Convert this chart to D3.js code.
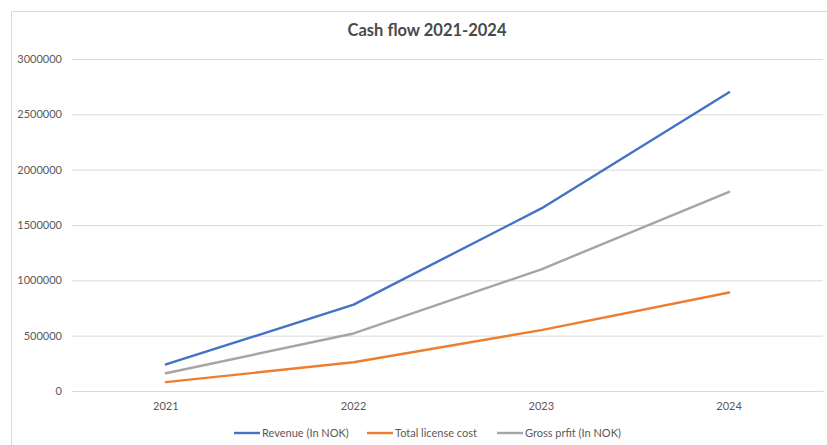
<!DOCTYPE html>
<html>
<head>
<meta charset="utf-8">
<script src="https://cdn.jsdelivr.net/npm/d3@7"></script>
<style>
  html, body { margin: 0; padding: 0; background: #fff; }
  svg { display: block; }
</style>
</head>
<body>
<svg id="chart" width="827" height="445"></svg>
<script>
const title = "Cash flow 2021-2024";
const categories = ["2021", "2022", "2023", "2024"];
const seriesNames = ["Revenue (In NOK)", "Total license cost", "Gross prfit (In NOK)"];
const revenue = [240000, 780000, 1650000, 2700000];
const licenseCost = [80000, 260000, 550000, 890000];
const grossProfit = [160000, 520000, 1100000, 1800000];
const yTicks = [0, 500000, 1000000, 1500000, 2000000, 2500000, 3000000];
const colors = ["#4472C4", "#ED7D31", "#A5A5A5"];

(function () {
const series = [revenue, licenseCost, grossProfit].map((vals, i) => ({
  name: seriesNames[i], color: colors[i],
  points: categories.map((c, j) => ({ c, v: vals[j] }))
}));

const svg = d3.select("#chart");
const font = "Lato, 'Open Sans', sans-serif";

// chart border
svg.append("path")
  .attr("d", "M11.5,445 V11.5 H827")
  .attr("fill", "none").attr("stroke", "#d9d9d9").attr("stroke-width", 1);

const mLeft = 72, mRight = 823, mTop = 59, mBottom = 391;
const x = d3.scaleBand().domain(categories).range([mLeft, mRight]);
const y = d3.scaleLinear().domain([0, 3000000]).range([mBottom, mTop]);

// gridlines
const yAxis = d3.axisLeft(y).tickValues(yTicks).tickSize(-(mRight - mLeft)).tickPadding(10).tickFormat(d3.format("d"));
const gy = svg.append("g").attr("transform", `translate(${mLeft},0)`).call(yAxis);
gy.select(".domain").remove();
gy.selectAll(".tick line").attr("stroke", "#d9d9d9").attr("stroke-width", 1);
gy.selectAll(".tick text").attr("fill", "#595959").attr("font-family", font).attr("font-size", 11);

// x axis
const xAxis = d3.axisBottom(x).tickSize(0).tickPadding(11);
const gx = svg.append("g").attr("transform", `translate(0,${mBottom})`).call(xAxis);
gx.select(".domain").attr("stroke", "#d9d9d9");
gx.selectAll(".tick text").attr("fill", "#595959").attr("font-family", font).attr("font-size", 11);

// lines
const line = d3.line().x(d => x(d.c) + x.bandwidth() / 2).y(d => y(d.v));
svg.append("g").selectAll("path").data(series).join("path")
  .attr("d", d => line(d.points))
  .attr("fill", "none")
  .attr("stroke", d => d.color)
  .attr("stroke-width", 2.4)
  .attr("stroke-linejoin", "round")
  .attr("stroke-linecap", "round");

// title
svg.append("text")
  .attr("x", 427).attr("y", 36)
  .attr("text-anchor", "middle")
  .attr("font-family", font).attr("font-size", 16.5).attr("font-weight", "bold")
  .attr("fill", "#4a4a4a")
  .text(title);

// legend
const legendX = [234, 367, 497];
const lg = svg.append("g").selectAll("g").data(series).join("g")
  .attr("transform", (d, i) => `translate(${legendX[i]},433)`);
lg.append("line").attr("x1", 0).attr("x2", 26).attr("y1", 0).attr("y2", 0)
  .attr("stroke", d => d.color).attr("stroke-width", 2.4);
lg.append("text").attr("x", 28).attr("y", 4)
  .attr("font-family", font).attr("font-size", 11).attr("fill", "#595959")
  .text(d => d.name);
})();
</script>
</body>
</html>
